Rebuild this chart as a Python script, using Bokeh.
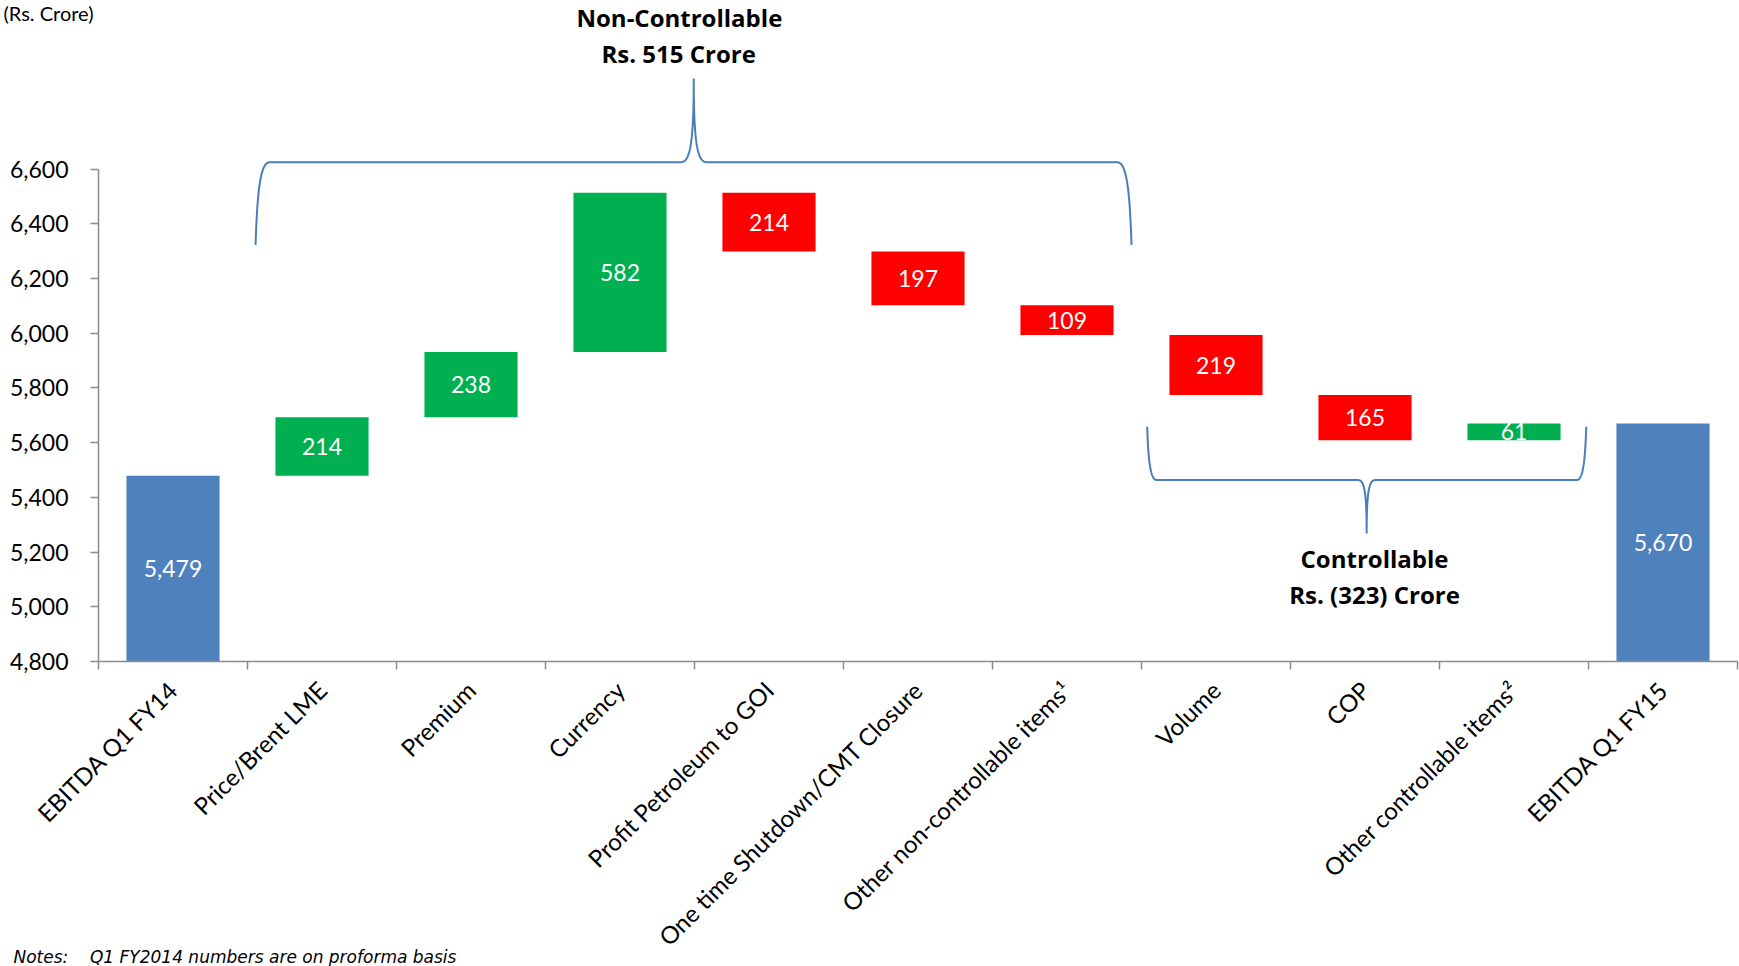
import numpy as np
from bokeh.plotting import figure
from bokeh.models import Range1d, FixedTicker, NumeralTickFormatter, Label, ColumnDataSource, Title
from bokeh.embed import file_html
from bokeh.resources import INLINE
from bokeh.core.properties import value

# ---------------- data ----------------
categories = ["EBITDA Q1 FY14", "Price/Brent LME", "Premium", "Currency",
              "Profit Petroleum to GOI", "One time Shutdown/CMT Closure",
              "Other non-controllable items\u00b9", "Volume", "COP",
              "Other controllable items\u00b2", "EBITDA Q1 FY15"]
start_value = 5479
changes = [214, 238, 582, -214, -197, -109, -219, -165, 61]
y_ticks = [4800, 5000, 5200, 5400, 5600, 5800, 6000, 6200, 6400, 6600]

BLUE, GREEN, RED = "#4F81BD", "#00B050", "#FF0000"
AXIS = "#8C8C8C"
BRACE = "#4A7EBB"
NBSP = "\u00a0"

# ---------------- waterfall geometry ----------------
y_min = y_ticks[0]
xs, bottoms, tops, colors, labels = [], [], [], [], []
running = start_value
xs.append(0.5); bottoms.append(y_min); tops.append(start_value); colors.append(BLUE)
labels.append(f"{start_value:,}")
for i, c in enumerate(changes):
    new = running + c
    xs.append(i + 1.5)
    bottoms.append(min(running, new)); tops.append(max(running, new))
    colors.append(GREEN if c > 0 else RED)
    labels.append(f"{abs(c):,}")
    running = new
xs.append(len(categories) - 0.5); bottoms.append(y_min); tops.append(running); colors.append(BLUE)
labels.append(f"{running:,}")
mids = [(b + t) / 2 for b, t in zip(bottoms, tops)]

src = ColumnDataSource(dict(x=xs, bottom=bottoms, top=tops, color=colors, label=labels, mid=mids))

# ---------------- figure ----------------
W, H = 1739, 966
p = figure(width=W, height=H, output_backend="svg", toolbar_location=None,
           x_range=Range1d(0, len(categories)), y_range=Range1d(y_min, 7048),
           min_border_left=98, min_border_right=2, min_border_top=0, min_border_bottom=305)
p.outline_line_color = None
p.xgrid.visible = False
p.ygrid.visible = False
p.background_fill_color = "white"
p.border_fill_color = "white"

p.vbar(x="x", bottom="bottom", top="top", width=0.625, color="color", line_color=None, source=src)
p.text(x="x", y="mid", text="label", source=src, text_align="center", text_baseline="middle",
       text_color="white", text_font=value("Lato"), text_font_size="23px")

# y axis
ya = p.yaxis[0]
ya.ticker = FixedTicker(ticks=y_ticks)
ya.formatter = NumeralTickFormatter(format="0,0")
ya.bounds = (y_ticks[0], y_ticks[-1])
ya.axis_line_color = AXIS
ya.axis_line_width = 1.5
ya.major_tick_line_color = AXIS
ya.major_tick_line_width = 1.5
ya.major_tick_out = 8
ya.major_tick_in = 0
ya.minor_tick_line_color = None
ya.major_label_standoff = 22
ya.major_label_text_font = "Lato"
ya.major_label_text_font_size = "23px"
ya.major_label_text_color = "black"

# x axis: ticks at category boundaries, labels at centres
xa = p.xaxis[0]
centers = [i + 0.5 for i in range(len(categories))]
xa.ticker = FixedTicker(ticks=centers, minor_ticks=list(range(len(categories) + 1)))
xa.major_label_overrides = {c: cat for c, cat in zip(centers, categories)}
xa.axis_line_color = AXIS
xa.axis_line_width = 1.5
xa.major_tick_line_color = None
xa.major_tick_out = 0
xa.major_tick_in = 0
xa.minor_tick_line_color = AXIS
xa.minor_tick_line_width = 1.5
xa.minor_tick_out = 8
xa.minor_tick_in = 0
xa.major_label_orientation = np.pi / 4
xa.major_label_standoff = 16
xa.major_label_text_font = "Lato"
xa.major_label_text_font_size = "24px"
xa.major_label_text_color = "black"

# ---------------- braces ----------------
def bez(p0, p1, p2, p3, n=40):
    t = np.linspace(0, 1, n)[:, None]
    p0, p1, p2, p3 = map(np.array, (p0, p1, p2, p3))
    return (1 - t) ** 3 * p0 + 3 * (1 - t) ** 2 * t * p1 + 3 * (1 - t) * t ** 2 * p2 + t ** 3 * p3

def brace(x0, x1, xc, y_end, y_bar, y_tip, cw, cw2):
    h = y_bar - y_end
    d = y_tip - y_bar
    segs = [
        bez((x0, y_end), (x0 + 0.12 * cw, y_end + 0.6 * h), (x0 + 0.3 * cw, y_bar), (x0 + cw, y_bar)),
        bez((xc - cw2, y_bar), (xc - 0.3 * cw2, y_bar), (xc, y_bar + 0.2 * d), (xc, y_tip)),
        bez((xc, y_tip), (xc, y_bar + 0.2 * d), (xc + 0.3 * cw2, y_bar), (xc + cw2, y_bar)),
        bez((x1 - cw, y_bar), (x1 - 0.3 * cw, y_bar), (x1 - 0.12 * cw, y_end + 0.6 * h), (x1, y_end)),
    ]
    pts = np.vstack(segs)
    return pts[:, 0], pts[:, 1]

bx, by = brace(1.054, 6.933, 3.995, 6323, 6625, 6931, 0.095, 0.088)
p.line(bx, by, line_color=BRACE, line_width=2)
bx2, by2 = brace(7.038, 9.985, 8.511, 5658, 5463, 5268, 0.065, 0.057)
p.line(bx2, by2, line_color=BRACE, line_width=2)

# ---------------- annotation texts ----------------
def lab(x, y, text):
    p.add_layout(Label(x=x, y=y, text=text, text_font="Open Sans", text_font_size="24px",
                       text_font_style="bold", text_align="center", text_baseline="middle",
                       text_color="black"))

lab(8.564, 5178, "Controllable")
lab(8.564, 5044, "Rs. (323) Crore")

# top texts as titles (panel nearest the frame first)
p.add_layout(Title(text="Non-Controllable\n" + NBSP * 4 + "Rs. 515 Crore", align="left", offset=478,
                   standoff=-51, vertical_align="top", text_font="Open Sans", text_font_size="24px",
                   text_font_style="bold", text_line_height=1.1, text_color="black"), "above")
p.add_layout(Title(text="(Rs. Crore)", align="left", offset=-95, standoff=0,
                   vertical_align="top", text_font="Lato", text_font_size="20px",
                   text_font_style="normal", text_color="black"), "above")
# footnote
p.add_layout(Title(text="Notes:" + NBSP * 4 + "Q1 FY2014 numbers are on proforma basis", align="left",
                   offset=-85, standoff=-36, vertical_align="top", text_font="DejaVu Sans",
                   text_font_size="17px", text_font_style="italic", text_color="black"), "below")

open("out.html", "w").write(file_html(p, INLINE))
